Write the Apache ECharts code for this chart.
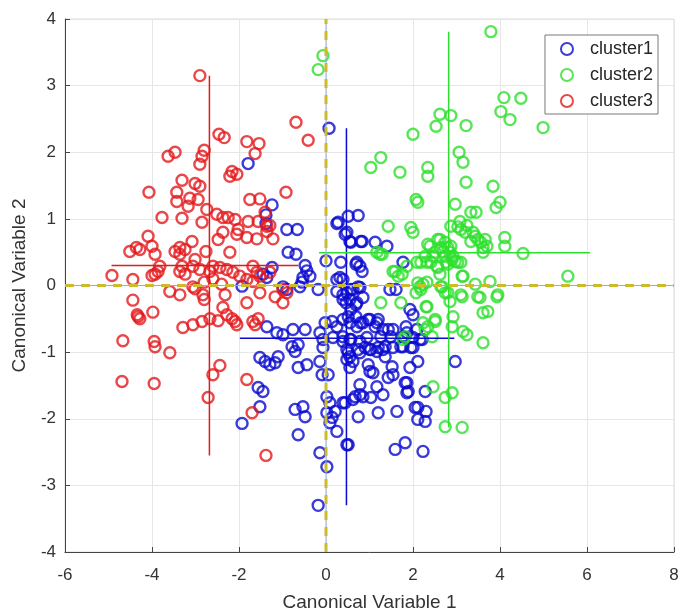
<!DOCTYPE html>
<html>
<head>
<meta charset="utf-8">
<script src="https://cdn.jsdelivr.net/npm/echarts@6/dist/echarts.min.js"></script>
<style>
  html, body { margin: 0; padding: 0; background: #fff; }
  #chart { width: 678px; height: 616px; }
</style>
</head>
<body>
<div id="chart"></div>
<script>
// scores on the first two canonical variables
const cluster1 = [
  [-1.79,1.83],[-1.24,1.21],[-1.38,1.06],[-1.38,0.93],[-0.90,0.84],[-0.66,0.84],[-0.87,0.50],[-0.69,0.47],
  [0.07,2.36],[0.25,0.93],[0.00,0.37],[-1.24,0.27],[-1.45,0.17],[-1.36,0.12],
  [-0.48,0.30],[-0.44,0.22],[-0.37,0.14],[-0.53,0.12],[-0.55,0.05],
  [-1.93,-0.01],[-0.99,-0.02],[-0.90,-0.06],[-0.18,-0.06],[0.25,0.09],
  [0.28,0.95],[0.51,1.04],[0.74,1.05],[0.48,0.80],[0.55,0.66],[0.83,0.66],[1.13,0.65],[1.40,0.59],
  [0.71,0.35],[0.78,0.29],[0.83,0.21],[1.77,0.35],[0.32,0.12],[0.39,0.09],[0.57,-0.06],[0.74,-0.02],[1.61,-0.06],
  [0.44,0.77],[0.34,0.35],[0.57,0.65],[0.80,0.66],[0.69,0.32],
  [-0.60,-0.02],[0.25,-0.09],[0.48,-0.11],[0.62,-0.06],[0.78,-0.03],[0.39,-0.21],[0.55,-0.21],[0.71,-0.26],[0.85,-0.18],[1.47,-0.06],
  [-1.36,-0.62],[-1.13,-0.71],[-0.99,-0.74],[-0.76,-0.66],[-0.48,-0.66],[-0.14,-0.71],[-0.02,-0.56],[0.14,-0.54],[0.25,-0.62],
  [0.39,-0.51],[0.55,-0.56],[0.71,-0.62],[0.85,-0.56],[1.01,-0.51],[1.17,-0.56],[1.31,-0.66],[1.54,-0.66],[1.86,-0.71],[2.09,-0.66],
  [-0.07,-0.81],[0.16,-0.78],[0.39,-0.84],[0.55,-0.81],[0.78,-0.84],[0.94,-0.78],
  [-0.78,-0.92],[-0.71,-0.99],[-0.64,-0.89],[-0.07,-0.93],
  [0.48,-0.96],[0.55,-1.07],[0.48,-1.11],[0.62,-1.14],[0.78,-1.01],[1.01,-0.96],[1.17,-0.99],[1.31,-0.96],[1.54,-0.93],[1.77,-0.92],[2.00,-0.93],
  [-1.52,-1.08],[-1.40,-1.14],[-1.29,-1.19],[-1.17,-1.16],[-1.10,-1.07],[-0.64,-1.23],[-0.44,-1.19],
  [-0.14,-1.14],[-0.09,-1.34],[0.05,-1.34],
  [0.55,-1.23],[0.97,-1.19],[1.01,-1.29],[1.08,-1.31],[1.36,-1.07],[1.52,-1.22],[1.54,-1.34],[1.43,-1.38],[1.93,-1.23],[2.11,-1.14],
  [-1.56,-1.53],[-1.45,-1.59],[-1.52,-1.82],
  [0.78,-1.49],[1.17,-1.52],[1.31,-1.64],[0.78,-1.64],[0.02,-1.67],[0.09,-1.76],[0.44,-1.76],[0.62,-1.71],
  [1.86,-1.61],[1.86,-1.46],[-0.71,-1.86],[-0.53,-1.82],[-0.48,-1.97],
  [0.02,-1.91],[0.14,-1.98],[0.09,-2.06],[0.21,-1.89],
  [0.74,-1.97],[1.20,-1.91],[1.63,-1.89],[2.11,-1.83],[2.11,-2.01],
  [-0.64,-2.24],[-0.14,-2.51],[0.25,-2.19],[0.48,-2.39],[1.59,-2.46],[1.82,-2.36],[2.23,-2.49],
  [-0.18,-3.30],[0.02,-2.72],[-1.93,-2.07],
  [0.39,-0.14],[0.46,-0.26],[0.69,-0.29],[0.57,-0.36],[0.51,-0.47],[0.69,-0.47],[0.80,-0.56],[0.97,-0.51],[1.13,-0.62],[1.20,-0.51],
  [1.43,-0.66],[1.49,-0.77],[1.26,-0.77],[1.93,-0.36],[2.00,-0.44],[1.84,-0.62],[1.77,-0.77],[2.00,-0.78],[2.16,-0.81],[1.72,-0.92],[1.95,-0.93],
  [0.39,-0.77],[0.57,-0.81],[0.51,-1.01],[0.74,-0.96],[0.90,-0.93],[1.03,-0.96],[1.20,-0.93],[1.36,-0.92],
  [2.97,-1.14],[2.28,-1.59],[2.05,-1.83],[2.30,-1.89],[2.28,-2.04],[1.89,-1.59],[1.82,-1.46],
  [0.39,-1.76],[0.67,-1.67],[0.85,-1.67],[1.03,-1.68],[0.51,-2.39],[2.21,-0.81]
];
const cluster2 = [
  [3.79,3.81],[4.09,2.82],[4.48,2.81],[4.02,2.61],[4.23,2.49],[4.99,2.37],
  [2.62,2.57],[2.87,2.55],[2.53,2.39],[3.22,2.40],[2.00,2.27],
  [1.03,1.77],[1.26,1.92],[1.70,1.70],[2.34,1.77],[2.34,1.64],
  [3.06,2.00],[3.15,1.85],[3.22,1.55],[3.84,1.49],[2.07,1.29],[2.11,1.25],
  [3.91,1.17],[4.00,1.25],[2.97,1.22],[1.43,0.89],[1.95,0.87],[2.00,0.80],
  [2.87,0.89],[3.08,0.96],[3.10,0.84],[3.33,1.10],[3.45,1.10],[3.20,0.80],[3.43,0.74],[3.49,0.69],[3.66,0.69],[3.33,0.66],[3.56,0.65],
  [4.11,0.72],[4.11,0.59],[4.53,0.48],[5.56,0.14],[1.24,0.47],[1.17,0.50],[1.29,0.47],
  [2.34,0.62],[2.57,0.69],[2.74,0.65],[2.80,0.57],[2.64,0.57],[2.87,0.59],[2.51,0.50],[2.28,0.44],[2.18,0.35],[2.41,0.35],
  [2.57,0.27],[2.80,0.32],[2.97,0.36],[3.10,0.35],[2.74,0.44],[2.92,0.44],
  [1.54,0.21],[1.66,0.14],[1.75,0.17],[1.86,0.29],[2.09,0.35],[1.59,0.21],
  [2.11,0.04],[2.23,0.02],[2.18,-0.06],[2.07,-0.11],[2.16,-0.02],
  [3.15,0.14],[3.43,0.02],[3.77,0.06],[3.95,-0.14],[2.64,-0.02],[2.74,-0.11],[3.10,-0.14],[3.49,-0.17],
  [-0.18,3.24],[-0.07,3.45],
  [3.03,0.88],[3.24,0.90],[3.38,0.80],[3.70,0.59],[3.61,0.57],[3.61,0.50],
  [2.62,0.69],[2.85,0.50],[2.69,0.51],[2.39,0.59],[2.46,0.44],[2.32,0.35],[2.55,0.29],[2.76,0.35],[2.90,0.39],[3.03,0.35],[2.62,0.17],[3.13,0.14],
  [2.32,0.05],[2.67,-0.02],[2.80,-0.11],[2.85,-0.24],[3.13,-0.17],[3.54,-0.18],[3.61,-0.41],[3.72,-0.39],[3.93,-0.17],
  [2.32,-0.32],[2.51,-0.51],[2.23,-0.56],[2.92,-0.47],[2.90,-0.62],[3.15,-0.69],[3.24,-0.74],[2.44,-0.77],[3.61,-0.86],
  [2.46,-1.52],[2.74,-1.68],[2.90,-1.61],[2.74,-2.12],[3.13,-2.13],
  [1.26,-0.26],[1.72,-0.26],[2.30,-0.32],[2.51,-0.54],[2.34,-0.62],[2.28,-0.66],[1.82,-0.77],[1.77,-0.81]
];
const cluster3 = [
  [-2.90,3.15],[-2.46,2.27],[-2.34,2.22],[-1.82,2.16],[-1.54,2.13],[-1.63,1.98],
  [-2.80,2.03],[-2.85,1.94],[-2.90,1.82],[-3.63,1.94],[-3.47,2.00],[-0.69,2.45],[-0.41,2.18],
  [-4.07,1.40],[-3.31,1.58],[-3.01,1.53],[-2.90,1.49],
  [-3.43,1.40],[-3.43,1.26],[-3.17,1.19],[-3.13,1.31],[-2.94,1.29],[-2.74,1.14],
  [-2.16,1.71],[-2.05,1.67],[-2.21,1.64],[-1.75,1.29],[-0.92,1.40],
  [-3.77,1.02],[-3.31,1.01],[-2.85,0.95],
  [-2.51,1.07],[-2.37,1.02],[-2.25,1.02],[-2.09,0.99],[-1.79,0.96],[-1.56,0.96],[-1.36,0.89],
  [-2.02,0.84],[-1.82,0.72],[-1.59,0.70],[-1.22,0.70],[-2.48,0.69],[-2.37,0.80],[-2.05,0.77],
  [-3.08,0.66],[-4.09,0.74],[-4.51,0.51],[-4.36,0.57],[-4.28,0.54],[-4.00,0.59],[-3.93,0.47],
  [-3.47,0.51],[-3.36,0.57],[-3.24,0.54],[-3.36,0.47],[-3.01,0.39],[-2.76,0.51],[-2.21,0.50],
  [-4.92,0.15],[-4.44,0.09],[-4.00,0.15],[-3.86,0.21],[-3.82,0.29],[-3.93,0.17],
  [-3.36,0.21],[-3.24,0.17],[-3.31,0.29],
  [-3.06,0.29],[-2.90,0.24],[-2.67,0.21],[-2.60,0.29],[-2.44,0.27],[-2.28,0.24],[-2.14,0.20],[-1.98,0.14],[-1.82,0.09],[-1.68,0.06],[-1.52,0.14],
  [-2.80,0.05],[-2.60,0.10],[-2.40,0.02],
  [-1.40,1.10],[-1.52,1.30],[-1.29,0.90],[-1.36,0.81],[-1.68,0.29],[-1.59,0.20],[-1.29,0.20],
  [-4.44,-0.22],[-4.34,-0.44],[-4.28,-0.50],[-4.32,-0.47],[-3.98,-0.40],
  [-3.59,-0.09],[-3.36,-0.14],[-3.06,-0.02],[-3.01,-0.05],[-2.83,-0.14],[-2.80,-0.21],
  [-2.32,-0.14],[-2.37,-0.33],[-1.82,-0.26],
  [-3.29,-0.63],[-3.06,-0.59],[-2.85,-0.54],[-2.67,-0.50],[-2.48,-0.53],
  [-2.28,-0.44],[-2.16,-0.50],[-2.05,-0.59],[-2.09,-0.54],[-1.68,-0.54],[-1.63,-0.59],
  [-4.67,-0.83],[-3.95,-0.84],[-3.93,-0.92],[-3.59,-1.01],[-4.69,-1.44],[-3.95,-1.47],
  [-2.44,-1.20],[-2.60,-1.34],[-2.71,-1.68],[-1.82,-1.41],[-1.70,-1.91],[-1.38,-2.55],
  [-1.52,-0.11],[-1.17,-0.17],[-0.99,-0.06],[-0.90,-0.11],[-0.99,-0.26],[-1.56,-0.50]
];

// range crosses through each cluster mean: [vertical, horizontal]
const cross1 = [[[0.47,-3.30],[0.47,2.36]], [[-1.98,-0.79],[2.95,-0.79]]];
const cross2 = [[[2.82,-2.13],[2.82,3.81]], [[-0.16,0.49],[6.07,0.49]]];
const cross3 = [[[-2.68,-2.55],[-2.68,3.15]], [[-4.93,0.30],[-0.64,0.30]]];

const zeroLines = [[[0,-4],[0,4]], [[-6,0],[8,0]]];

const names = ['cluster1', 'cluster2', 'cluster3'];
const colors = ['#0a0ad0', '#2ee02e', '#e3191c'];

const chart = echarts.init(document.getElementById('chart'), null, { renderer: 'canvas' });

const TXT = '#333';
const FONT = 'Liberation Sans, Arial, sans-serif';

const scatter = [cluster1, cluster2, cluster3].map((d, i) => ({
  type: 'scatter',
  name: names[i],
  data: d,
  symbol: 'circle',
  symbolSize: 11,
  itemStyle: { color: 'rgba(255,255,255,0)', borderColor: colors[i], borderWidth: 2.4 },
  z: 2,
}));

const seg = (pts, color, width, extra) => ({
  type: 'line',
  data: pts,
  symbol: 'none',
  silent: true,
  lineStyle: { color, width, ...extra },
  z: 3,
});

const crossSeries = [];
[cross1, cross2, cross3].forEach((c, i) => {
  c.forEach(pts => crossSeries.push(seg(pts, colors[i], 1.5)));
});

const zeroSeries = [];
zeroLines.forEach(pts => {
  zeroSeries.push(seg(pts, '#8fb0d0', 1));
  zeroSeries.push(seg(pts, '#cdbb2a', 3, { type: [9, 7] }));
});

chart.setOption({
  animation: false,
  backgroundColor: '#fff',
  textStyle: { fontFamily: FONT },
  grid: {
    left: 65, right: 4, top: 19, bottom: 64,
    outerBoundsMode: 'none',
    containLabel: false,
    show: true, borderColor: '#dcdcdc', borderWidth: 1,
  },
  legend: {
    data: names,
    orient: 'vertical',
    right: 20,
    top: 35,
    padding: [5, 5, 4, 15],
    itemGap: 8,
    itemWidth: 12,
    itemHeight: 12,
    backgroundColor: '#fff',
    borderColor: '#7a7a7a',
    borderWidth: 1,
    borderRadius: 0,
    textStyle: { fontSize: 18, color: '#262626', fontFamily: FONT, padding: [0, 0, 0, 12] },
  },
  xAxis: {
    type: 'value',
    min: -6, max: 8, interval: 2,
    name: 'Canonical Variable 1',
    nameLocation: 'middle',
    nameGap: 41,
    nameTextStyle: { fontSize: 19, color: TXT, fontFamily: FONT },
    axisLine: { onZero: false, lineStyle: { color: '#444', width: 1 } },
    axisTick: { inside: true, length: 5, lineStyle: { color: '#444' } },
    axisLabel: { fontSize: 17, color: TXT, margin: 15, fontFamily: FONT },
    splitLine: { show: true, lineStyle: { color: '#e6e6e6', width: 1 } },
  },
  yAxis: {
    type: 'value',
    min: -4, max: 4, interval: 1,
    name: 'Canonical Variable 2',
    nameLocation: 'middle',
    nameGap: 36,
    nameTextStyle: { fontSize: 19, color: TXT, fontFamily: FONT },
    axisLine: { show: true, onZero: false, lineStyle: { color: '#444', width: 1 } },
    axisTick: { show: true, inside: true, length: 5, lineStyle: { color: '#444' } },
    axisLabel: { fontSize: 17, color: TXT, margin: 9, fontFamily: FONT },
    splitLine: { show: true, lineStyle: { color: '#e6e6e6', width: 1 } },
  },
  series: [...scatter, ...crossSeries, ...zeroSeries],
});
</script>
</body>
</html>
